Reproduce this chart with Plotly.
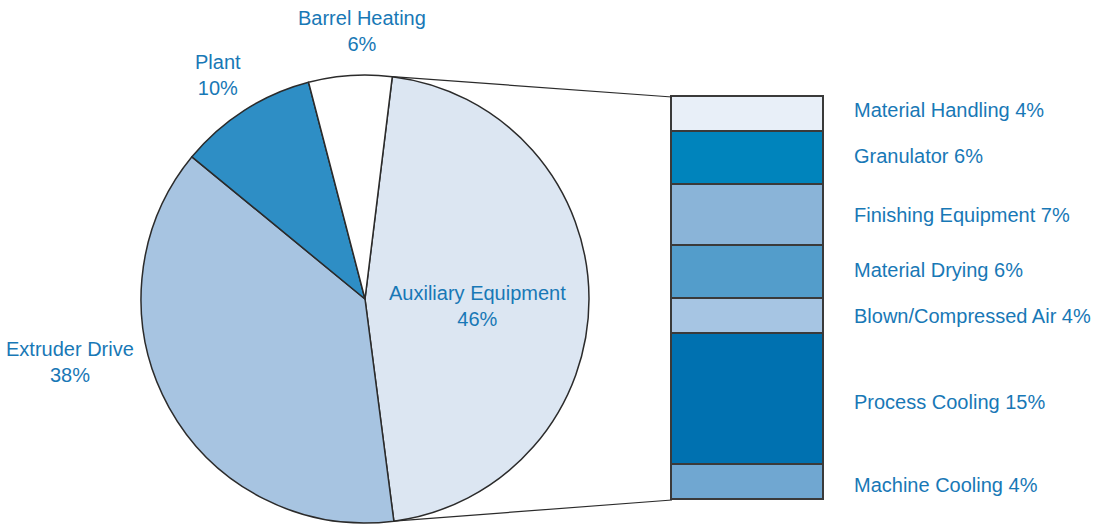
import math
import plotly.graph_objects as go

# ---------------- data ----------------
pie_labels = ["Auxiliary Equipment", "Extruder Drive", "Plant", "Barrel Heating"]
pie_values = [46, 38, 10, 6]
pie_colors = ["#dce6f2", "#a7c4e1", "#2e8ec5", "#ffffff"]

bar_labels = ["Material Handling", "Granulator", "Finishing Equipment", "Material Drying",
              "Blown/Compressed Air", "Process Cooling", "Machine Cooling"]
bar_values = [4, 6, 7, 6, 4, 15, 4]
bar_colors = ["#e8eff8", "#0084bc", "#8ab4d8", "#539dcb", "#a6c5e3", "#0071b0", "#70a7d1"]

# ---------------- layout constants ----------------
W, H = 1093, 525
TEXT = "#1878b6"
FONT = "Liberation Sans, Arial, sans-serif"
FS = 20

cx, cy, r = 365, 299, 224          # pie centre / radius in pixels
rotation = 7                         # start angle of first slice (clockwise from 12 o'clock)

bar_x0, bar_x1 = 672, 824            # stacked bar pixel extents
bar_y0, bar_y1 = 97, 500
PAD = 3                              # px of padding so outline is not clipped
label_shift = [5, 2, 0, 2, 0, -3, -3]  # small vertical nudges (px) for right-hand labels

total_bar = sum(bar_values)
bw = bar_x1 - bar_x0
bh = bar_y1 - bar_y0
xpad = PAD / bw
ypad = PAD * total_bar / bh

pie_dom_x = [(cx - r) / W, (cx + r) / W]
pie_dom_y = [(H - cy - r) / H, (H - cy + r) / H]
bar_dom_x = [(bar_x0 - PAD) / W, (bar_x1 + PAD) / W]
bar_dom_y = [(H - bar_y1 - PAD) / H, (H - bar_y0 + PAD) / H]

fig = go.Figure()

fig.add_trace(go.Pie(
    labels=pie_labels, values=pie_values, sort=False, direction="clockwise",
    rotation=rotation, textinfo="none", hoverinfo="label+percent",
    marker=dict(colors=pie_colors, line=dict(color="#2b2b2b", width=1.5)),
    domain=dict(x=pie_dom_x, y=pie_dom_y), showlegend=False,
))

# stacked bar (bottom to top)
for lab, val, col in zip(reversed(bar_labels), reversed(bar_values), reversed(bar_colors)):
    fig.add_trace(go.Bar(
        x=[0], y=[val], width=1, name=lab,
        marker=dict(color=col, line=dict(color="#3a3a3a", width=1.8)),
        showlegend=False, hoverinfo="name+y",
    ))

# right-hand labels at segment midpoints
annotations = []
cum = 0
for lab, val, sh in zip(reversed(bar_labels), reversed(bar_values), reversed(label_shift)):
    mid = cum + val / 2
    cum += val
    annotations.append(dict(
        x=852 / W, xref="paper", y=mid, yref="y", xanchor="left", yanchor="middle",
        yshift=sh, text=f"{lab} {val}%", showarrow=False,
        font=dict(family=FONT, size=FS, color=TEXT),
    ))

# pie labels
pie_label_pos = {
    "Barrel Heating": (362, 31),
    "Plant": (218, 75),
    "Extruder Drive": (70, 362),
    "Auxiliary Equipment": (477, 306),
}
for lab, val in zip(pie_labels, pie_values):
    px, py = pie_label_pos[lab]
    annotations.append(dict(
        x=px / W, y=(H - py) / H, xref="paper", yref="paper", xanchor="center",
        yanchor="middle", text=f"{lab}<br>{val}%", showarrow=False,
        font=dict(family=FONT, size=FS, color=TEXT),
    ))

# connector lines from the Auxiliary slice edges to the bar corners
total_pie = sum(pie_values)
a0 = math.radians(rotation)
a1 = math.radians(rotation + 360 * pie_values[0] / total_pie)
def pie_pt(a):
    x = cx + r * math.sin(a)
    y = cy - r * math.cos(a)
    return x / W, (H - y) / H

p0 = pie_pt(a0)
p1 = pie_pt(a1)
shapes = [
    dict(type="line", xref="paper", yref="paper", x0=p0[0], y0=p0[1],
         x1=bar_x0 / W, y1=(H - bar_y0) / H, line=dict(color="#2b2b2b", width=1.2)),
    dict(type="line", xref="paper", yref="paper", x0=p1[0], y0=p1[1],
         x1=bar_x0 / W, y1=(H - bar_y1) / H, line=dict(color="#2b2b2b", width=1.2)),
]

fig.update_layout(
    width=W, height=H, margin=dict(l=0, r=0, t=0, b=0),
    paper_bgcolor="white", plot_bgcolor="rgba(0,0,0,0)",
    barmode="stack", bargap=0,
    xaxis=dict(domain=bar_dom_x, range=[-0.5 - xpad, 0.5 + xpad], visible=False, fixedrange=True),
    yaxis=dict(domain=bar_dom_y, range=[-ypad, total_bar + ypad], visible=False, fixedrange=True),
    annotations=annotations, shapes=shapes,
)

fig.write_html(
    "out.html",
    config={"displayModeBar": False},
    post_script="document.body.style.margin='0';document.body.style.overflow='hidden';",
)
